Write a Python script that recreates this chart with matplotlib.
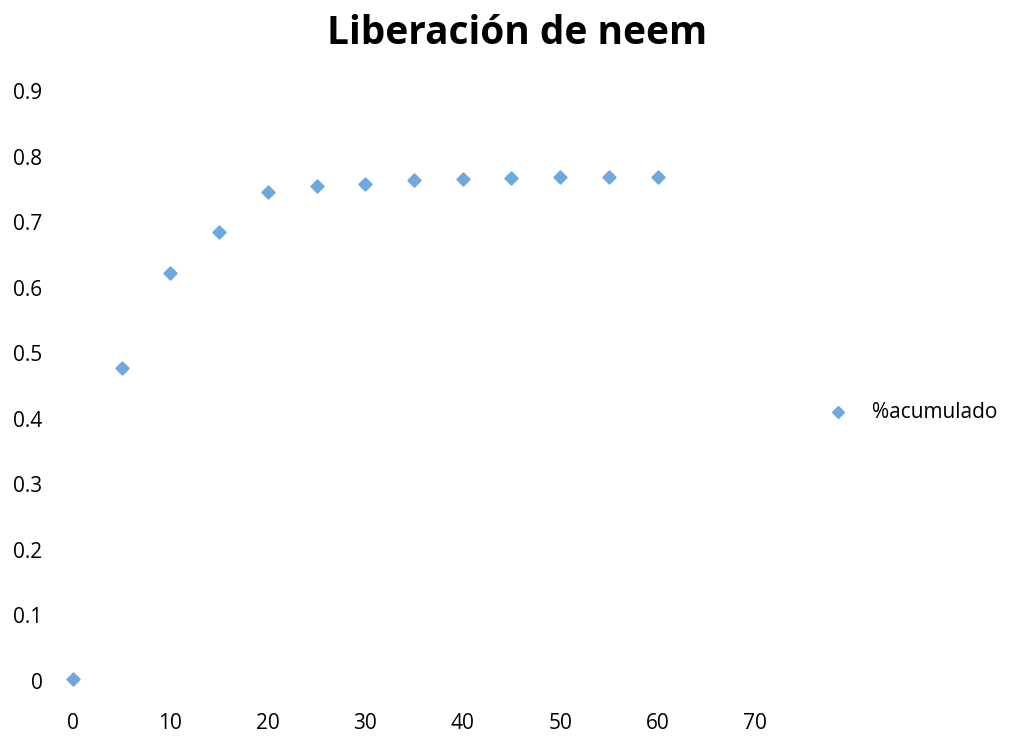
import matplotlib.pyplot as plt

# datos
tiempo = [0, 5, 10, 15, 20, 25, 30, 35, 40, 45, 50, 55, 60]
acumulado = [0.003, 0.478, 0.623, 0.685, 0.746, 0.755, 0.758, 0.764, 0.766, 0.767, 0.769, 0.769, 0.769]
x_ticks = [0, 10, 20, 30, 40, 50, 60, 70]
y_ticks = [0, 0.1, 0.2, 0.3, 0.4, 0.5, 0.6, 0.7, 0.8, 0.9]

plt.rcParams['font.family'] = ['Open Sans', 'DejaVu Sans']

fig = plt.figure(figsize=(10.11, 7.36), dpi=100)
ax = fig.add_axes([0.0722, 0.0747, 0.6746, 0.8016])

ax.scatter(tiempo, acumulado, marker='D', s=45, color='#6fa8dc', label='%acumulado',
           zorder=3, clip_on=False)

ax.set_xlim(0, 70)
ax.set_ylim(0, 0.9)
ax.set_xticks(x_ticks)
ax.set_yticks(y_ticks)
ax.set_yticklabels(['0'] + [f'{v:g}' for v in y_ticks[1:]])
for s in ax.spines.values():
    s.set_visible(False)
ax.tick_params(length=0, labelsize=15)
ax.tick_params(axis='x', pad=23)
ax.tick_params(axis='y', pad=22)

fig.text(0.511, 0.955, 'Liberación de neem', ha='center', va='center', fontsize=28, fontweight='bold')

fig.legend(loc='center left', bbox_to_anchor=(0.79, 0.44), frameon=False, fontsize=15,
           handletextpad=0.6, markerscale=0.9)

fig.savefig('out.png', dpi=100)
